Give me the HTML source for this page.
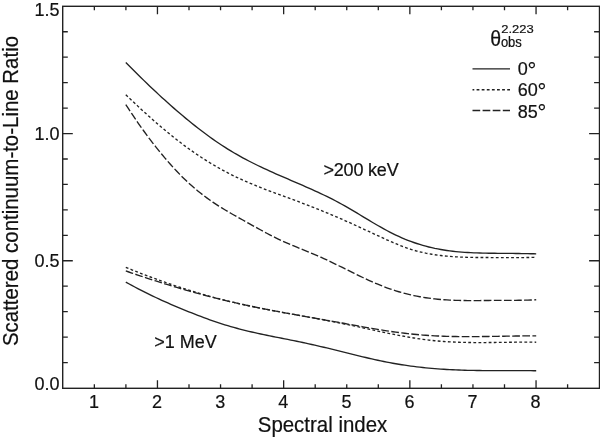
<!DOCTYPE html>
<html><head><meta charset="utf-8"><title>Scattered continuum-to-Line Ratio</title>
<style>
html,body{margin:0;padding:0;background:#fff;}
svg{display:block;will-change:transform;}
text{font-family:"Liberation Sans",sans-serif;fill:#111;stroke:#111;stroke-width:0.2px;}
.t{font-size:18px;}
.T{font-size:20.45px;}
.s{font-size:13px;}
.ax{stroke:#222;stroke-width:1.4;fill:none;}
.tk{stroke:#222;stroke-width:1.3;fill:none;}
.c{stroke:#222;stroke-width:1.35;fill:none;stroke-linejoin:round;}
</style></head><body>
<svg width="600" height="437" viewBox="0 0 600 437">
<rect width="600" height="437" fill="#fff"/>
<rect class="ax" x="62.7" y="6.3" width="536.80" height="382.00"/>
<path class="tk" d="M94.35,388.3v-4.1M94.35,6.3v4M125.90,388.3v-4.1M125.90,6.3v4M157.45,388.3v-8.1M157.45,6.3v8M189.00,388.3v-4.1M189.00,6.3v4M220.55,388.3v-4.1M220.55,6.3v4M252.10,388.3v-4.1M252.10,6.3v4M283.65,388.3v-8.1M283.65,6.3v8M315.20,388.3v-4.1M315.20,6.3v4M346.75,388.3v-4.1M346.75,6.3v4M378.30,388.3v-4.1M378.30,6.3v4M409.85,388.3v-8.1M409.85,6.3v8M441.40,388.3v-4.1M441.40,6.3v4M472.95,388.3v-4.1M472.95,6.3v4M504.50,388.3v-4.1M504.50,6.3v4M536.05,388.3v-8.1M536.05,6.3v8M567.60,388.3v-4.1M567.60,6.3v4"/>
<path class="tk" d="M62.7,362.55h5.1M599.5,362.55h-5.4M62.7,337.11h5.1M599.5,337.11h-5.4M62.7,311.66h5.1M599.5,311.66h-5.4M62.7,286.21h5.1M599.5,286.21h-5.4M62.7,260.77h10.1M599.5,260.77h-10.4M62.7,235.32h5.1M599.5,235.32h-5.4M62.7,209.87h5.1M599.5,209.87h-5.4M62.7,184.43h5.1M599.5,184.43h-5.4M62.7,158.98h5.1M599.5,158.98h-5.4M62.7,133.53h10.1M599.5,133.53h-10.4M62.7,108.09h5.1M599.5,108.09h-5.4M62.7,82.64h5.1M599.5,82.64h-5.4M62.7,57.19h5.1M599.5,57.19h-5.4M62.7,31.75h5.1M599.5,31.75h-5.4"/>
<text class="t" x="93.9" y="408.3" text-anchor="middle">1</text>
<text class="t" x="157.0" y="408.3" text-anchor="middle">2</text>
<text class="t" x="220.2" y="408.3" text-anchor="middle">3</text>
<text class="t" x="283.3" y="408.3" text-anchor="middle">4</text>
<text class="t" x="346.4" y="408.3" text-anchor="middle">5</text>
<text class="t" x="409.5" y="408.3" text-anchor="middle">6</text>
<text class="t" x="472.6" y="408.3" text-anchor="middle">7</text>
<text class="t" x="535.6" y="408.3" text-anchor="middle">8</text>
<text class="t" x="59.6" y="15.9" text-anchor="end">1.5</text>
<text class="t" x="59.6" y="139.7" text-anchor="end">1.0</text>
<text class="t" x="59.6" y="267.2" text-anchor="end">0.5</text>
<text class="t" x="59.6" y="389.8" text-anchor="end">0.0</text>
<text class="T" transform="translate(322.5,431.7) scale(1,1.05)" text-anchor="middle">Spectral index</text>
<text class="T" transform="translate(17.8,191) rotate(-90) scale(1,1.10)" text-anchor="middle">Scattered continuum-to-Line Ratio</text>
<text class="t" x="323.5" y="175.5" style="letter-spacing:-0.2px">&gt;200 keV</text>
<text class="t" x="154.2" y="348.3">&gt;1 MeV</text>
<text style="font-size:19.5px" transform="translate(490.2,46.0) scale(1,1.12)">θ</text>
<text class="s" transform="translate(501.2,33.15) scale(1,0.88)">2.223</text>
<text class="s" transform="translate(500.9,47.1) scale(1,1.07)">obs</text>
<path class="c" d="M472.5,68.9H510"/>
<text class="t" x="517.8" y="75.3">0<tspan style="font-size:22px" dy="2.2" dx="-0.3">°</tspan></text>
<path class="c" d="M472.5,89.7H510" stroke-dasharray="2.8 2.3" stroke-dashoffset="1.0"/>
<text class="t" x="517.8" y="96.4">60<tspan style="font-size:22px" dy="2.2" dx="-0.3">°</tspan></text>
<path class="c" d="M472.5,110.5H510" stroke-dasharray="7.7 2.4"/>
<text class="t" x="517.8" y="117.6">85<tspan style="font-size:22px" dy="2.2" dx="-0.3">°</tspan></text>
<path class="c" d="M125.8,62.55 L128.8,65.58 L131.8,68.58 L134.8,71.57 L137.8,74.53 L140.8,77.47 L143.8,80.39 L146.8,83.29 L149.8,86.16 L152.8,89.00 L155.8,91.82 L158.8,94.62 L161.8,97.38 L164.8,100.12 L167.8,102.82 L170.8,105.49 L173.8,108.13 L176.8,110.74 L179.8,113.32 L182.8,115.85 L185.8,118.36 L188.8,120.82 L191.8,123.25 L194.8,125.64 L197.8,127.99 L200.8,130.30 L203.8,132.56 L206.8,134.79 L209.8,136.96 L212.8,139.10 L215.8,141.19 L218.8,143.23 L221.8,145.23 L224.8,147.17 L227.8,149.07 L230.8,150.91 L233.8,152.71 L236.8,154.45 L239.8,156.15 L242.8,157.80 L245.8,159.42 L248.8,160.99 L251.8,162.52 L254.8,164.02 L257.8,165.49 L260.8,166.93 L263.8,168.34 L266.8,169.73 L269.8,171.09 L272.8,172.44 L275.8,173.77 L278.8,175.09 L281.8,176.40 L284.8,177.70 L287.8,178.99 L290.8,180.28 L293.8,181.57 L296.8,182.86 L299.8,184.15 L302.8,185.46 L305.8,186.77 L308.8,188.10 L311.8,189.44 L314.8,190.79 L317.8,192.17 L320.8,193.57 L323.8,195.00 L326.8,196.45 L329.8,197.94 L332.8,199.45 L335.8,201.01 L338.8,202.60 L341.8,204.23 L344.8,205.91 L347.8,207.62 L350.8,209.37 L353.8,211.15 L356.8,212.95 L359.8,214.76 L362.8,216.58 L365.8,218.40 L368.8,220.20 L371.8,222.00 L374.8,223.77 L377.8,225.51 L380.8,227.21 L383.8,228.87 L386.8,230.50 L389.8,232.07 L392.8,233.59 L395.8,235.05 L398.8,236.45 L401.8,237.79 L404.8,239.07 L407.8,240.27 L410.8,241.42 L413.8,242.50 L416.8,243.51 L419.8,244.47 L422.8,245.36 L425.8,246.20 L428.8,246.98 L431.8,247.69 L434.8,248.36 L437.8,248.96 L440.8,249.52 L443.8,250.02 L446.8,250.47 L449.8,250.88 L452.8,251.25 L455.8,251.58 L458.8,251.86 L461.8,252.12 L464.8,252.34 L467.8,252.53 L470.8,252.69 L473.8,252.83 L476.8,252.94 L479.8,253.04 L482.8,253.11 L485.8,253.17 L488.8,253.22 L491.8,253.26 L494.8,253.29 L497.8,253.32 L500.8,253.34 L503.8,253.36 L506.8,253.39 L509.8,253.41 L512.8,253.44 L515.8,253.47 L518.8,253.51 L521.8,253.55 L524.8,253.60 L527.8,253.65 L530.8,253.71 L533.8,253.79 L536.2,253.85"/>
<path class="c" d="M125.8,94.84 L128.8,97.69 L131.8,100.53 L134.8,103.34 L137.8,106.13 L140.8,108.90 L143.8,111.65 L146.8,114.37 L149.8,117.06 L152.8,119.72 L155.8,122.35 L158.8,124.95 L161.8,127.51 L164.8,130.04 L167.8,132.53 L170.8,134.98 L173.8,137.39 L176.8,139.76 L179.8,142.08 L182.8,144.36 L185.8,146.59 L188.8,148.78 L191.8,150.91 L194.8,153.00 L197.8,155.04 L200.8,157.03 L203.8,158.98 L206.8,160.88 L209.8,162.73 L212.8,164.53 L215.8,166.29 L218.8,168.00 L221.8,169.67 L224.8,171.29 L227.8,172.86 L230.8,174.39 L233.8,175.88 L236.8,177.32 L239.8,178.73 L242.8,180.09 L245.8,181.42 L248.8,182.72 L251.8,183.99 L254.8,185.23 L257.8,186.44 L260.8,187.63 L263.8,188.80 L266.8,189.95 L269.8,191.09 L272.8,192.22 L275.8,193.33 L278.8,194.44 L281.8,195.54 L284.8,196.64 L287.8,197.73 L290.8,198.84 L293.8,199.94 L296.8,201.05 L299.8,202.17 L302.8,203.31 L305.8,204.45 L308.8,205.61 L311.8,206.78 L314.8,207.96 L317.8,209.15 L320.8,210.36 L323.8,211.58 L326.8,212.81 L329.8,214.06 L332.8,215.32 L335.8,216.59 L338.8,217.88 L341.8,219.19 L344.8,220.51 L347.8,221.84 L350.8,223.19 L353.8,224.55 L356.8,225.92 L359.8,227.30 L362.8,228.69 L365.8,230.08 L368.8,231.48 L371.8,232.87 L374.8,234.27 L377.8,235.67 L380.8,237.07 L383.8,238.45 L386.8,239.82 L389.8,241.16 L392.8,242.47 L395.8,243.74 L398.8,244.97 L401.8,246.14 L404.8,247.25 L407.8,248.31 L410.8,249.29 L413.8,250.21 L416.8,251.06 L419.8,251.83 L422.8,252.53 L425.8,253.17 L428.8,253.74 L431.8,254.26 L434.8,254.73 L437.8,255.15 L440.8,255.53 L443.8,255.86 L446.8,256.16 L449.8,256.42 L452.8,256.64 L455.8,256.83 L458.8,256.99 L461.8,257.13 L464.8,257.24 L467.8,257.33 L470.8,257.40 L473.8,257.45 L476.8,257.49 L479.8,257.52 L482.8,257.53 L485.8,257.54 L488.8,257.55 L491.8,257.55 L494.8,257.55 L497.8,257.56 L500.8,257.57 L503.8,257.59 L506.8,257.61 L509.8,257.63 L512.8,257.65 L515.8,257.65 L518.8,257.65 L521.8,257.63 L524.8,257.58 L527.8,257.52 L530.8,257.43 L533.8,257.30 L536.2,257.18" stroke-dasharray="2.8 2.3"/>
<path class="c" d="M125.8,104.57 L128.8,109.17 L131.8,113.70 L134.8,118.16 L137.8,122.53 L140.8,126.82 L143.8,131.01 L146.8,135.12 L149.8,139.13 L152.8,143.05 L155.8,146.86 L158.8,150.59 L161.8,154.24 L164.8,157.83 L167.8,161.35 L170.8,164.77 L173.8,168.09 L176.8,171.30 L179.8,174.40 L182.8,177.40 L185.8,180.30 L188.8,183.09 L191.8,185.79 L194.8,188.40 L197.8,190.91 L200.8,193.33 L203.8,195.66 L206.8,197.90 L209.8,200.06 L212.8,202.13 L215.8,204.13 L218.8,206.06 L221.8,207.93 L224.8,209.75 L227.8,211.52 L230.8,213.26 L233.8,214.97 L236.8,216.66 L239.8,218.33 L242.8,220.01 L245.8,221.69 L248.8,223.37 L251.8,225.04 L254.8,226.72 L257.8,228.38 L260.8,230.02 L263.8,231.64 L266.8,233.24 L269.8,234.81 L272.8,236.35 L275.8,237.84 L278.8,239.30 L281.8,240.71 L284.8,242.07 L287.8,243.40 L290.8,244.69 L293.8,245.96 L296.8,247.20 L299.8,248.44 L302.8,249.66 L305.8,250.89 L308.8,252.12 L311.8,253.37 L314.8,254.63 L317.8,255.92 L320.8,257.24 L323.8,258.59 L326.8,259.98 L329.8,261.39 L332.8,262.82 L335.8,264.28 L338.8,265.75 L341.8,267.22 L344.8,268.71 L347.8,270.19 L350.8,271.67 L353.8,273.15 L356.8,274.62 L359.8,276.07 L362.8,277.50 L365.8,278.91 L368.8,280.29 L371.8,281.64 L374.8,282.96 L377.8,284.23 L380.8,285.46 L383.8,286.65 L386.8,287.78 L389.8,288.85 L392.8,289.88 L395.8,290.84 L398.8,291.76 L401.8,292.62 L404.8,293.43 L407.8,294.18 L410.8,294.89 L413.8,295.55 L416.8,296.17 L419.8,296.74 L422.8,297.26 L425.8,297.73 L428.8,298.17 L431.8,298.56 L434.8,298.90 L437.8,299.21 L440.8,299.48 L443.8,299.72 L446.8,299.92 L449.8,300.09 L452.8,300.23 L455.8,300.34 L458.8,300.43 L461.8,300.50 L464.8,300.54 L467.8,300.57 L470.8,300.59 L473.8,300.59 L476.8,300.57 L479.8,300.56 L482.8,300.53 L485.8,300.50 L488.8,300.47 L491.8,300.44 L494.8,300.41 L497.8,300.38 L500.8,300.36 L503.8,300.35 L506.8,300.35 L509.8,300.34 L512.8,300.33 L515.8,300.32 L518.8,300.29 L521.8,300.25 L524.8,300.20 L527.8,300.12 L530.8,300.02 L533.8,299.89 L536.2,299.77" stroke-dasharray="7.7 2.4"/>
<path class="c" d="M125.8,267.31 L128.8,268.54 L131.8,269.76 L134.8,270.96 L137.8,272.14 L140.8,273.32 L143.8,274.47 L146.8,275.62 L149.8,276.75 L152.8,277.87 L155.8,278.97 L158.8,280.05 L161.8,281.13 L164.8,282.19 L167.8,283.23 L170.8,284.26 L173.8,285.27 L176.8,286.28 L179.8,287.26 L182.8,288.23 L185.8,289.19 L188.8,290.13 L191.8,291.06 L194.8,291.97 L197.8,292.86 L200.8,293.75 L203.8,294.61 L206.8,295.46 L209.8,296.30 L212.8,297.12 L215.8,297.93 L218.8,298.72 L221.8,299.49 L224.8,300.25 L227.8,300.99 L230.8,301.72 L233.8,302.43 L236.8,303.13 L239.8,303.81 L242.8,304.48 L245.8,305.14 L248.8,305.78 L251.8,306.41 L254.8,307.03 L257.8,307.64 L260.8,308.25 L263.8,308.84 L266.8,309.42 L269.8,310.00 L272.8,310.57 L275.8,311.13 L278.8,311.69 L281.8,312.24 L284.8,312.79 L287.8,313.34 L290.8,313.88 L293.8,314.42 L296.8,314.96 L299.8,315.50 L302.8,316.04 L305.8,316.58 L308.8,317.12 L311.8,317.66 L314.8,318.21 L317.8,318.76 L320.8,319.31 L323.8,319.87 L326.8,320.44 L329.8,321.01 L332.8,321.59 L335.8,322.17 L338.8,322.77 L341.8,323.37 L344.8,323.98 L347.8,324.61 L350.8,325.24 L353.8,325.88 L356.8,326.52 L359.8,327.17 L362.8,327.82 L365.8,328.47 L368.8,329.12 L371.8,329.77 L374.8,330.42 L377.8,331.06 L380.8,331.70 L383.8,332.33 L386.8,332.95 L389.8,333.57 L392.8,334.17 L395.8,334.76 L398.8,335.34 L401.8,335.90 L404.8,336.45 L407.8,336.98 L410.8,337.49 L413.8,337.98 L416.8,338.45 L419.8,338.89 L422.8,339.31 L425.8,339.71 L428.8,340.08 L431.8,340.42 L434.8,340.73 L437.8,341.01 L440.8,341.26 L443.8,341.49 L446.8,341.69 L449.8,341.87 L452.8,342.02 L455.8,342.15 L458.8,342.26 L461.8,342.35 L464.8,342.42 L467.8,342.48 L470.8,342.52 L473.8,342.55 L476.8,342.56 L479.8,342.57 L482.8,342.56 L485.8,342.55 L488.8,342.52 L491.8,342.49 L494.8,342.46 L497.8,342.42 L500.8,342.38 L503.8,342.34 L506.8,342.30 L509.8,342.26 L512.8,342.23 L515.8,342.20 L518.8,342.17 L521.8,342.16 L524.8,342.15 L527.8,342.15 L530.8,342.16 L533.8,342.18 L536.2,342.21" stroke-dasharray="2.8 2.3"/>
<path class="c" d="M125.8,270.95 L128.8,272.00 L131.8,273.03 L134.8,274.05 L137.8,275.07 L140.8,276.08 L143.8,277.08 L146.8,278.07 L149.8,279.05 L152.8,280.02 L155.8,280.98 L158.8,281.93 L161.8,282.87 L164.8,283.80 L167.8,284.73 L170.8,285.64 L173.8,286.54 L176.8,287.44 L179.8,288.32 L182.8,289.20 L185.8,290.06 L188.8,290.91 L191.8,291.76 L194.8,292.59 L197.8,293.41 L200.8,294.22 L203.8,295.02 L206.8,295.82 L209.8,296.60 L212.8,297.36 L215.8,298.12 L218.8,298.87 L221.8,299.61 L224.8,300.33 L227.8,301.05 L230.8,301.75 L233.8,302.44 L236.8,303.12 L239.8,303.79 L242.8,304.45 L245.8,305.10 L248.8,305.74 L251.8,306.37 L254.8,306.99 L257.8,307.60 L260.8,308.21 L263.8,308.81 L266.8,309.40 L269.8,309.98 L272.8,310.56 L275.8,311.13 L278.8,311.70 L281.8,312.26 L284.8,312.82 L287.8,313.37 L290.8,313.91 L293.8,314.46 L296.8,315.00 L299.8,315.54 L302.8,316.07 L305.8,316.61 L308.8,317.14 L311.8,317.67 L314.8,318.20 L317.8,318.73 L320.8,319.25 L323.8,319.78 L326.8,320.31 L329.8,320.84 L332.8,321.38 L335.8,321.91 L338.8,322.45 L341.8,322.98 L344.8,323.53 L347.8,324.07 L350.8,324.62 L353.8,325.16 L356.8,325.71 L359.8,326.25 L362.8,326.79 L365.8,327.32 L368.8,327.85 L371.8,328.37 L374.8,328.88 L377.8,329.39 L380.8,329.88 L383.8,330.36 L386.8,330.83 L389.8,331.28 L392.8,331.72 L395.8,332.14 L398.8,332.54 L401.8,332.92 L404.8,333.28 L407.8,333.63 L410.8,333.95 L413.8,334.25 L416.8,334.54 L419.8,334.80 L422.8,335.05 L425.8,335.27 L428.8,335.48 L431.8,335.67 L434.8,335.83 L437.8,335.98 L440.8,336.12 L443.8,336.23 L446.8,336.33 L449.8,336.41 L452.8,336.48 L455.8,336.53 L458.8,336.58 L461.8,336.60 L464.8,336.62 L467.8,336.63 L470.8,336.63 L473.8,336.62 L476.8,336.60 L479.8,336.57 L482.8,336.54 L485.8,336.51 L488.8,336.46 L491.8,336.42 L494.8,336.37 L497.8,336.32 L500.8,336.27 L503.8,336.21 L506.8,336.16 L509.8,336.11 L512.8,336.06 L515.8,336.01 L518.8,335.97 L521.8,335.93 L524.8,335.90 L527.8,335.87 L530.8,335.85 L533.8,335.84 L536.2,335.84" stroke-dasharray="7.7 2.4"/>
<path class="c" d="M125.8,282.04 L128.8,283.72 L131.8,285.36 L134.8,286.98 L137.8,288.56 L140.8,290.12 L143.8,291.65 L146.8,293.15 L149.8,294.62 L152.8,296.07 L155.8,297.49 L158.8,298.89 L161.8,300.27 L164.8,301.62 L167.8,302.96 L170.8,304.27 L173.8,305.57 L176.8,306.84 L179.8,308.10 L182.8,309.34 L185.8,310.57 L188.8,311.78 L191.8,312.98 L194.8,314.16 L197.8,315.32 L200.8,316.46 L203.8,317.59 L206.8,318.69 L209.8,319.77 L212.8,320.82 L215.8,321.85 L218.8,322.86 L221.8,323.83 L224.8,324.78 L227.8,325.70 L230.8,326.59 L233.8,327.45 L236.8,328.27 L239.8,329.07 L242.8,329.84 L245.8,330.58 L248.8,331.30 L251.8,332.00 L254.8,332.68 L257.8,333.35 L260.8,334.00 L263.8,334.63 L266.8,335.25 L269.8,335.87 L272.8,336.47 L275.8,337.07 L278.8,337.67 L281.8,338.26 L284.8,338.86 L287.8,339.45 L290.8,340.05 L293.8,340.66 L296.8,341.27 L299.8,341.90 L302.8,342.53 L305.8,343.18 L308.8,343.83 L311.8,344.50 L314.8,345.17 L317.8,345.85 L320.8,346.54 L323.8,347.24 L326.8,347.94 L329.8,348.66 L332.8,349.38 L335.8,350.11 L338.8,350.84 L341.8,351.58 L344.8,352.32 L347.8,353.07 L350.8,353.82 L353.8,354.57 L356.8,355.32 L359.8,356.06 L362.8,356.80 L365.8,357.52 L368.8,358.23 L371.8,358.93 L374.8,359.60 L377.8,360.26 L380.8,360.90 L383.8,361.51 L386.8,362.11 L389.8,362.68 L392.8,363.23 L395.8,363.75 L398.8,364.26 L401.8,364.74 L404.8,365.20 L407.8,365.64 L410.8,366.06 L413.8,366.45 L416.8,366.83 L419.8,367.18 L422.8,367.51 L425.8,367.82 L428.8,368.12 L431.8,368.39 L434.8,368.64 L437.8,368.87 L440.8,369.09 L443.8,369.28 L446.8,369.46 L449.8,369.63 L452.8,369.77 L455.8,369.91 L458.8,370.03 L461.8,370.13 L464.8,370.23 L467.8,370.31 L470.8,370.38 L473.8,370.44 L476.8,370.49 L479.8,370.54 L482.8,370.57 L485.8,370.60 L488.8,370.62 L491.8,370.64 L494.8,370.65 L497.8,370.66 L500.8,370.66 L503.8,370.66 L506.8,370.66 L509.8,370.66 L512.8,370.66 L515.8,370.66 L518.8,370.66 L521.8,370.66 L524.8,370.66 L527.8,370.67 L530.8,370.69 L533.8,370.70 L536.2,370.72"/>
</svg></body></html>
